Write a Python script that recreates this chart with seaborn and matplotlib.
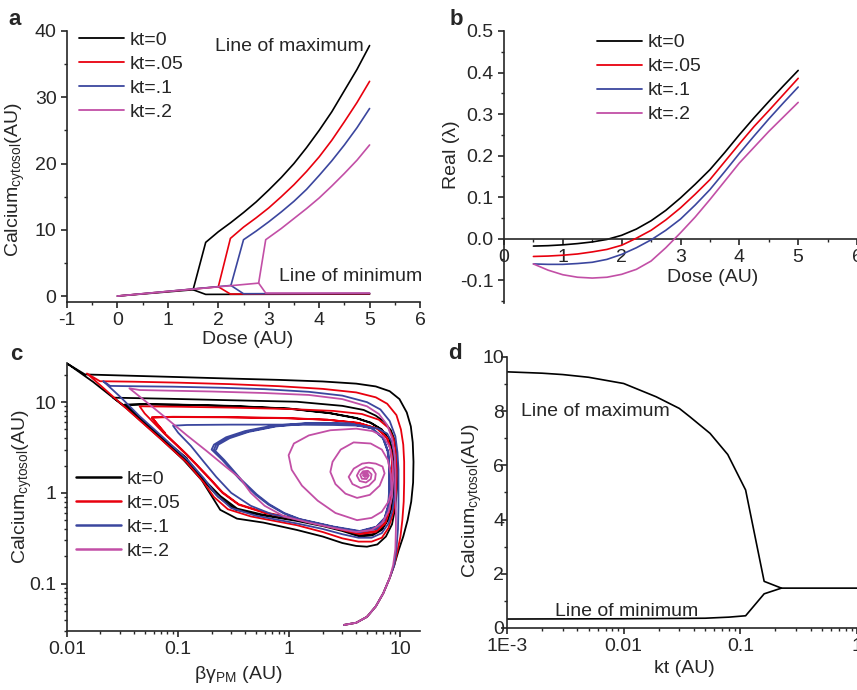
import matplotlib
matplotlib.use("Agg")
import seaborn as sns
from matplotlib import pyplot as plt
from matplotlib.lines import Line2D
from matplotlib.ticker import MultipleLocator, FixedLocator, FixedFormatter, LogLocator, NullFormatter

# ---------------------------------------------------------------- data
KT_LABELS = ["kt=0", "kt=.05", "kt=.1", "kt=.2"]
KT_COLORS = ["#000000", "#e8000e", "#3b469e", "#c24fa6"]

# panel a: bifurcation lines (dose, calcium), one max + one min branch per kt
a_max_dose = [
    [0, 1.5, 1.75, 2.0, 2.25, 2.5, 2.75, 3.0, 3.25, 3.5, 3.75, 4.0, 4.25, 4.5, 4.75, 5.0],
    [0, 2.0, 2.24, 2.5, 2.75, 3.0, 3.25, 3.5, 3.75, 4.0, 4.25, 4.5, 4.75, 5.0],
    [0, 2.25, 2.5, 2.75, 3.0, 3.25, 3.5, 3.75, 4.0, 4.25, 4.5, 4.75, 5.0],
    [0, 2.8, 2.94, 3.25, 3.5, 3.75, 4.0, 4.25, 4.5, 4.75, 5.0],
]
a_max_ca = [
    [0, 0.95, 8.1, 9.7, 11.1, 12.6, 14.2, 16.0, 17.9, 20.0, 22.4, 25.0, 27.8, 31.0, 34.2, 37.8],
    [0, 1.4, 8.7, 10.4, 11.8, 13.3, 15.0, 16.8, 18.8, 21.0, 23.5, 26.3, 29.2, 32.4],
    [0, 1.6, 8.5, 9.8, 11.2, 12.7, 14.3, 16.1, 18.2, 20.4, 22.8, 25.4, 28.3],
    [0, 1.95, 8.5, 10.2, 11.7, 13.2, 14.8, 16.6, 18.5, 20.5, 22.8],
]
a_min_dose = [[1.5, 1.75, 5.0], [2.0, 2.24, 5.0], [2.25, 2.5, 5.0], [2.8, 2.94, 5.0]]
a_min_ca = [[0.95, 0.25, 0.3], [1.4, 0.3, 0.35], [1.6, 0.35, 0.4], [1.95, 0.45, 0.45]]

# panel b: real part of eigenvalue vs dose
b_dose = [0.5, 0.75, 1.0, 1.25, 1.5, 1.75, 2.0, 2.25, 2.5, 2.75, 3.0,
          3.25, 3.5, 3.75, 4.0, 4.25, 4.5, 4.75, 5.0]
b_real = [
    [-0.018, -0.017, -0.015, -0.012, -0.008, -0.002, 0.008, 0.023, 0.043, 0.068,
     0.098, 0.131, 0.166, 0.207, 0.25, 0.291, 0.33, 0.368, 0.405],
    [-0.043, -0.042, -0.040, -0.037, -0.032, -0.026, -0.016, 0.001, 0.02, 0.045,
     0.074, 0.107, 0.142, 0.185, 0.228, 0.27, 0.308, 0.347, 0.386],
    [-0.061, -0.062, -0.062, -0.06, -0.057, -0.05, -0.038, -0.022, -0.003, 0.02,
     0.047, 0.081, 0.118, 0.161, 0.205, 0.247, 0.288, 0.327, 0.365],
    [-0.061, -0.076, -0.087, -0.093, -0.095, -0.093, -0.086, -0.074, -0.054, -0.022,
     0.014, 0.052, 0.094, 0.138, 0.182, 0.22, 0.258, 0.293, 0.328],
]

# panel c: phase-plane trajectories (beta*gamma_PM, calcium)
c_traj_kt0 = [
    (3.1, 0.035), (4.0, 0.037), (5.0, 0.043), (6.0, 0.056), (7.0, 0.078), (8.0, 0.115),
    (8.8, 0.16), (9.6, 0.23), (10.6, 0.33), (11.6, 0.5), (12.5, 0.8), (13.0, 1.3),
    (13.1, 2.2), (12.9, 3.6), (12.4, 5.4), (11.4, 7.7), (9.8, 10.8), (8.0, 13.2),
    (6.0, 14.9), (4.0, 16.0), (2.0, 16.9), (0.8, 17.6), (0.29, 18.2), (0.1, 18.9),
    (0.04, 19.5), (0.0145, 20.2), (0.0101, 26.5),
    (0.0172, 16.7), (0.0345, 8.5), (0.069, 4.0), (0.112, 2.3), (0.163, 1.38),
    (0.205, 0.88), (0.239, 0.65), (0.338, 0.52), (0.586, 0.47), (1.17, 0.39),
    (2.0, 0.33), (3.0, 0.28), (4.0, 0.26), (5.0, 0.255), (6.2, 0.27), (7.4, 0.33),
    (8.4, 0.45), (9.0, 0.7), (9.3, 1.1), (9.4, 2.0), (9.0, 3.65), (8.2, 4.9),
    (7.1, 6.1), (6.0, 7.1), (4.67, 8.2), (3.0, 9.1), (1.17, 10.1), (0.29, 10.5),
    (0.08, 10.9), (0.026, 11.2),
    (0.035, 8.6), (0.07, 4.05), (0.115, 2.35), (0.17, 1.35), (0.23, 0.9), (0.33, 0.65),
    (0.55, 0.57), (1.17, 0.49), (2.0, 0.43), (3.0, 0.38), (4.3, 0.33), (5.6, 0.34),
    (6.8, 0.39), (7.7, 0.5), (8.4, 0.72), (8.75, 1.1), (8.8, 1.7), (8.6, 2.6),
    (8.0, 3.8), (6.8, 5.0), (5.4, 5.95), (4.0, 6.7), (2.3, 7.6), (1.0, 8.5),
    (0.3, 9.1), (0.1, 9.4), (0.05, 9.5), (0.033, 9.4),
    (0.037, 8.3), (0.07, 4.1), (0.12, 2.35), (0.175, 1.36), (0.24, 0.92), (0.34, 0.67),
    (0.56, 0.58), (1.17, 0.5), (2.0, 0.44), (3.0, 0.39), (4.3, 0.34), (5.6, 0.35),
    (6.8, 0.4), (7.7, 0.51), (8.35, 0.73), (8.7, 1.1), (8.75, 1.7), (8.55, 2.6),
    (7.95, 3.8), (6.8, 4.95), (5.4, 5.9), (4.0, 6.65), (2.3, 7.55), (1.0, 8.45),
    (0.3, 9.05), (0.1, 9.35), (0.05, 9.45), (0.034, 9.3),
    (0.038, 8.2), (0.07, 4.15), (0.12, 2.4),
]
c_traj_kt05 = [
    (3.1, 0.035), (4.0, 0.037), (5.0, 0.043), (6.0, 0.056), (7.0, 0.078), (8.0, 0.115),
    (8.8, 0.16), (9.4, 0.23), (10.0, 0.33), (10.4, 0.5), (10.7, 0.8), (10.8, 1.3),
    (10.8, 2.2), (10.6, 3.4), (10.1, 5.0), (9.2, 7.2), (7.6, 9.6), (6.0, 11.3),
    (4.0, 12.8), (2.0, 14.0), (0.8, 15.0), (0.29, 15.8), (0.1, 16.4), (0.04, 16.8),
    (0.0198, 17.0), (0.0151, 20.7),
    (0.021, 14.5), (0.035, 8.3), (0.07, 3.9), (0.12, 2.15), (0.17, 1.3), (0.21, 0.9),
    (0.28, 0.66), (0.45, 0.55), (1.17, 0.44), (2.0, 0.37), (3.0, 0.315), (4.2, 0.29),
    (5.5, 0.29), (6.8, 0.32), (7.8, 0.41), (8.6, 0.6), (9.1, 0.95), (9.3, 1.6),
    (9.2, 2.6), (8.7, 3.9), (7.8, 5.2), (6.4, 6.4), (4.5, 7.4), (2.5, 8.0),
    (1.0, 8.4), (0.3, 8.7), (0.1, 8.9), (0.045, 9.0),
    (0.05, 7.5), (0.075, 4.5), (0.12, 2.6), (0.18, 1.55), (0.25, 1.0), (0.35, 0.74),
    (0.6, 0.6), (1.17, 0.51), (2.5, 0.41), (4.3, 0.35), (6.0, 0.37), (7.3, 0.46),
    (8.0, 0.66), (8.4, 1.05), (8.5, 1.8), (8.3, 2.8), (7.6, 4.0), (6.2, 5.1),
    (4.2, 5.9), (2.2, 6.4), (0.9, 6.7), (0.25, 6.85), (0.09, 6.9), (0.058, 6.8),
    (0.075, 4.6), (0.12, 2.65), (0.18, 1.58), (0.25, 1.02), (0.35, 0.75), (0.6, 0.61),
    (1.17, 0.52), (2.5, 0.42), (4.3, 0.36), (6.0, 0.38), (7.3, 0.47), (8.0, 0.67),
    (8.35, 1.05), (8.45, 1.8), (8.25, 2.8), (7.6, 4.0), (6.2, 5.1), (4.2, 5.9),
    (2.2, 6.4), (0.9, 6.65), (0.25, 6.8), (0.09, 6.85), (0.058, 6.75), (0.076, 4.6),
]
c_traj_kt1 = [
    (3.1, 0.035), (4.0, 0.037), (5.0, 0.043), (6.0, 0.056), (7.0, 0.078), (8.0, 0.115),
    (8.8, 0.16), (9.2, 0.24), (9.5, 0.4), (9.6, 0.7), (9.6, 1.1), (9.6, 1.8),
    (9.4, 2.8), (9.0, 4.2), (8.0, 6.2), (6.6, 8.3), (5.0, 10.0), (3.0, 11.8),
    (1.5, 13.0), (0.6, 13.9), (0.25, 14.4), (0.09, 14.8), (0.035, 15.0),
    (0.0244, 15.1), (0.0212, 17.0),
    (0.03, 11.5), (0.045, 7.0), (0.07, 4.3), (0.12, 2.35), (0.17, 1.45), (0.22, 0.95),
    (0.3, 0.68), (0.5, 0.56), (1.17, 0.46), (2.0, 0.4), (3.0, 0.35), (4.2, 0.32),
    (5.5, 0.32), (6.8, 0.36), (7.8, 0.46), (8.5, 0.65), (8.9, 1.0), (9.0, 1.6),
    (8.9, 2.5), (8.4, 3.6), (7.6, 4.5), (6.3, 5.1), (4.5, 5.5), (2.5, 5.6),
    (1.0, 5.65), (0.3, 5.65), (0.12, 5.6), (0.09, 5.5),
    (0.1, 4.6), (0.13, 3.3), (0.17, 2.2), (0.22, 1.5), (0.3, 1.0), (0.45, 0.72),
    (0.7, 0.58), (1.3, 0.5), (2.5, 0.42), (4.3, 0.37), (6.1, 0.4), (7.2, 0.5),
    (7.8, 0.7), (8.0, 1.1), (8.0, 1.8), (7.8, 2.8), (7.0, 4.0), (5.5, 5.2),
    (3.5, 5.8), (1.5, 5.9), (0.7, 5.5), (0.4, 4.8), (0.27, 4.1), (0.21, 3.4), (0.2, 3.0),
    (0.25, 2.3), (0.36, 1.4), (0.5, 0.95), (0.65, 0.74), (0.9, 0.59), (1.24, 0.51),
    (2.5, 0.42), (4.3, 0.375), (6.1, 0.42), (7.2, 0.52), (7.8, 0.72), (8.0, 1.16),
    (8.0, 1.8), (7.7, 2.9), (7.0, 4.05), (5.5, 5.2), (3.5, 5.8), (1.5, 5.85),
    (0.75, 5.45), (0.42, 4.75), (0.28, 4.05), (0.22, 3.4), (0.21, 3.0),
    (0.26, 2.3), (0.37, 1.4), (0.51, 0.96), (0.66, 0.75), (0.9, 0.6), (1.24, 0.515),
    (2.5, 0.425), (4.3, 0.38), (6.1, 0.425), (7.2, 0.53), (7.75, 0.73), (7.95, 1.16),
    (7.95, 1.8), (7.65, 2.9), (6.95, 4.0), (5.5, 5.15), (3.5, 5.75), (1.5, 5.8),
    (0.76, 5.4), (0.43, 4.7), (0.29, 4.0), (0.23, 3.4), (0.22, 3.0),
]
c_traj_kt2 = [
    (3.1, 0.035), (4.0, 0.037), (5.0, 0.043), (6.0, 0.056), (7.0, 0.078), (8.0, 0.115),
    (8.6, 0.16), (9.0, 0.24), (9.1, 0.4), (9.1, 0.7), (9.0, 1.1), (9.0, 1.8),
    (8.8, 2.8), (8.4, 4.0), (7.6, 5.6), (6.4, 7.4), (5.0, 9.0), (3.0, 10.8),
    (1.5, 12.0), (0.6, 12.6), (0.2, 13.1), (0.08, 13.4), (0.045, 13.6), (0.0364, 14.2),
    (0.05, 10.4), (0.08, 6.5), (0.12, 4.3), (0.18, 2.9), (0.26, 2.0), (0.362, 1.44),
    (0.45, 1.0), (0.6, 0.72), (0.9, 0.55), (1.5, 0.47), (2.5, 0.41), (4.0, 0.37),
    (5.5, 0.39), (6.8, 0.46), (7.8, 0.62), (8.4, 0.9), (8.6, 1.4), (8.5, 2.2),
    (8.0, 3.2), (7.0, 4.2), (5.6, 4.8), (4.0, 5.1), (2.34, 4.9), (1.5, 4.3),
    (1.1, 3.5), (0.986, 2.6), (1.05, 1.8), (1.3, 1.2), (1.8, 0.82), (2.6, 0.6),
    (4.07, 0.5), (5.5, 0.53), (6.8, 0.62), (7.8, 0.8), (8.3, 1.07),
    (8.2, 1.6), (7.7, 2.3), (6.8, 3.0), (5.4, 3.5), (3.79, 3.6), (2.9, 3.0),
    (2.45, 2.2), (2.34, 1.7), (2.6, 1.25), (3.2, 0.98), (4.07, 0.88), (5.3, 0.95),
    (6.5, 1.2), (7.2, 1.64), (6.9, 1.95), (6.0, 2.1), (5.2, 2.15), (4.52, 2.1),
    (3.8, 1.85), (3.42, 1.5), (3.7, 1.25), (4.4, 1.13), (5.2, 1.2), (5.9, 1.4),
    (6.0, 1.62), (5.6, 1.85), (4.9, 1.92), (4.3, 1.78), (4.05, 1.55), (4.3, 1.35),
    (4.9, 1.3), (5.4, 1.42), (5.5, 1.6), (5.1, 1.75), (4.6, 1.73), (4.35, 1.58),
    (4.5, 1.43), (4.95, 1.42), (5.2, 1.55), (5.0, 1.68), (4.65, 1.65), (4.6, 1.55),
    (4.8, 1.49), (5.0, 1.55), (4.88, 1.62), (4.75, 1.58), (4.84, 1.54),
]
c_trajs = [c_traj_kt0, c_traj_kt05, c_traj_kt1, c_traj_kt2]

# panel d: max / min calcium vs kt
d_kt_max = [0.001, 0.002, 0.003, 0.005, 0.01, 0.019, 0.03, 0.037, 0.055, 0.078,
            0.111, 0.16, 0.225, 0.3, 0.5, 1.0]
d_ca_max = [9.45, 9.4, 9.35, 9.25, 9.02, 8.53, 8.1, 7.79, 7.18, 6.4,
            5.09, 1.72, 1.47, 1.47, 1.47, 1.47]
d_kt_min = [0.001, 0.01, 0.05, 0.08, 0.111, 0.16, 0.225]
d_ca_min = [0.33, 0.34, 0.36, 0.4, 0.45, 1.26, 1.47]

# ---------------------------------------------------------------- style
sns.set_theme(style="ticks")
plt.rcParams["font.family"] = ["Liberation Sans", "DejaVu Sans"]
plt.rcParams["mathtext.fontset"] = "custom"
plt.rcParams["mathtext.rm"] = "Liberation Sans"
plt.rcParams["mathtext.it"] = "Liberation Sans:italic"
plt.rcParams["mathtext.bf"] = "Liberation Sans:bold"
plt.rcParams["axes.unicode_minus"] = False
plt.rcParams["axes.linewidth"] = 1.2
plt.rcParams["xtick.major.width"] = 1.2
plt.rcParams["ytick.major.width"] = 1.2
plt.rcParams["xtick.minor.width"] = 1.0
plt.rcParams["ytick.minor.width"] = 1.0
plt.rcParams["xtick.major.size"] = 4
plt.rcParams["ytick.major.size"] = 4
plt.rcParams["xtick.minor.size"] = 2.5
plt.rcParams["ytick.minor.size"] = 2.5
plt.rcParams["xtick.labelsize"] = 14
plt.rcParams["ytick.labelsize"] = 14
plt.rcParams["axes.labelsize"] = 14

FS = 14
CA_LABEL = r"Calcium$_{\mathrm{cytosol}}$(AU)"


def draw(ax, x, y, color, lw=1.2, zorder=2):
    sns.lineplot(x=x, y=y, sort=False, estimator=None, color=color, lw=lw,
                 ax=ax, zorder=zorder)


def kt_legend(ax, anchor, lw=1.3):
    handles = [Line2D([], [], color=c, lw=lw) for c in KT_COLORS]
    ax.legend(handles, KT_LABELS, loc="upper left", bbox_to_anchor=anchor,
              frameon=False, fontsize=FS, handlelength=2.3, handletextpad=0.3,
              labelspacing=0.33, borderpad=0, borderaxespad=0)


def place_labels(ax, xl, yl):
    ax.xaxis.set_label_coords(*xl)
    ax.yaxis.set_label_coords(*yl)
    ax.xaxis.label.set_va("center")
    ax.yaxis.label.set_va("center")


fig = plt.figure(figsize=(8.57, 6.9), dpi=100)
ax_a = fig.add_axes([0.0782, 0.5623, 0.4119, 0.3928])
ax_b = fig.add_axes([0.5881, 0.5609, 0.4119, 0.3942])
ax_c = fig.add_axes([0.0782, 0.0855, 0.4119, 0.3884])
ax_d = fig.add_axes([0.5916, 0.0899, 0.4084, 0.3928])

for ax in (ax_a, ax_b, ax_c, ax_d):
    sns.despine(ax=ax)

# ---------------------------------------------------------------- panel a
for i, color in enumerate(KT_COLORS):
    draw(ax_a, a_max_dose[i], a_max_ca[i], color, zorder=2 + i)
    draw(ax_a, a_min_dose[i], a_min_ca[i], color, zorder=2 + i)
ax_a.set_xlim(-1, 6)
ax_a.set_ylim(-0.9, 40)
ax_a.xaxis.set_major_locator(MultipleLocator(1))
ax_a.xaxis.set_minor_locator(MultipleLocator(0.5))
ax_a.yaxis.set_major_locator(MultipleLocator(10))
ax_a.yaxis.set_minor_locator(MultipleLocator(5))
ax_a.tick_params(which="both", direction="out")
ax_a.set_xlabel("Dose (AU)")
ax_a.set_ylabel(CA_LABEL)
place_labels(ax_a, (0.513, -0.14), (-0.147, 0.45))
ax_a.text(1.93, 37.6, "Line of maximum", fontsize=FS, va="center", ha="left")
ax_a.text(3.21, 2.97, "Line of minimum", fontsize=FS, va="center", ha="left")
kt_legend(ax_a, (0.034, 1.0))

# ---------------------------------------------------------------- panel b
for i, color in enumerate(KT_COLORS):
    draw(ax_b, b_dose, b_real[i], color, zorder=2 + i)
ax_b.spines["bottom"].set_position(("data", 0))
ax_b.set_xlim(0, 6)
ax_b.set_ylim(-0.155, 0.5)
ax_b.xaxis.set_major_locator(MultipleLocator(1))
ax_b.xaxis.set_minor_locator(MultipleLocator(0.5))
ax_b.yaxis.set_major_locator(FixedLocator([-0.1, 0.0, 0.1, 0.2, 0.3, 0.4, 0.5]))
ax_b.yaxis.set_major_formatter(FixedFormatter(["-0.1", "0.0", "0.1", "0.2", "0.3", "0.4", "0.5"]))
ax_b.yaxis.set_minor_locator(MultipleLocator(0.05))
ax_b.tick_params(which="both", direction="out")
ax_b.set_xlabel("Dose (AU)")
ax_b.set_ylabel("Real (λ)")
place_labels(ax_b, (0.59, 0.092), (-0.15, 0.544))
kt_legend(ax_b, (0.263, 0.99))

# ---------------------------------------------------------------- panel c
ax_c.set_xscale("log")
ax_c.set_yscale("log")
for i, color in enumerate(KT_COLORS):
    xs = [p[0] for p in c_trajs[i]]
    ys = [p[1] for p in c_trajs[i]]
    draw(ax_c, xs, ys, color, lw=1.3, zorder=2 + i)
ax_c.set_xlim(0.01, 15)
ax_c.set_ylim(0.03, 27)
ax_c.xaxis.set_major_locator(FixedLocator([0.01, 0.1, 1, 10]))
ax_c.xaxis.set_major_formatter(FixedFormatter(["0.01", "0.1", "1", "10"]))
ax_c.yaxis.set_major_locator(FixedLocator([0.1, 1, 10]))
ax_c.yaxis.set_major_formatter(FixedFormatter(["0.1", "1", "10"]))
for axis in (ax_c.xaxis, ax_c.yaxis):
    axis.set_minor_locator(LogLocator(base=10, subs=range(2, 10), numticks=20))
    axis.set_minor_formatter(NullFormatter())
ax_c.tick_params(which="both", direction="out")
ax_c.set_xlabel(r"βγ$_{\mathrm{PM}}$ (AU)")
ax_c.set_ylabel(CA_LABEL)
place_labels(ax_c, (0.484, -0.164), (-0.127, 0.537))
kt_legend(ax_c, (0.025, 0.6), lw=1.8)

# ---------------------------------------------------------------- panel d
ax_d.set_xscale("log")
draw(ax_d, d_kt_max, d_ca_max, "#000000")
draw(ax_d, d_kt_min, d_ca_min, "#000000")
ax_d.set_xlim(0.001, 1)
ax_d.set_ylim(0, 10)
ax_d.xaxis.set_major_locator(FixedLocator([0.001, 0.01, 0.1, 1]))
ax_d.xaxis.set_major_formatter(FixedFormatter(["1E-3", "0.01", "0.1", "1"]))
ax_d.xaxis.set_minor_locator(LogLocator(base=10, subs=range(2, 10), numticks=20))
ax_d.xaxis.set_minor_formatter(NullFormatter())
ax_d.yaxis.set_major_locator(MultipleLocator(2))
ax_d.yaxis.set_minor_locator(MultipleLocator(1))
ax_d.tick_params(which="both", direction="out")
ax_d.tick_params(axis="y", which="major", pad=-2)
ax_d.set_xlabel("kt (AU)")
ax_d.set_ylabel(CA_LABEL)
place_labels(ax_d, (0.506, -0.148), (-0.10, 0.47))
ax_d.text(0.00133, 8.0, "Line of maximum", fontsize=FS, va="center", ha="left")
ax_d.text(0.00256, 0.61, "Line of minimum", fontsize=FS, va="center", ha="left")

# ---------------------------------------------------------------- panel letters
for letter, (px, py) in zip("abcd", [(8, 25), (450, 25), (10, 360), (448, 359)]):
    fig.text(px / 857, 1 - py / 690, letter, fontsize=16, fontweight="bold",
             va="baseline", ha="left")

fig.savefig("out.png", dpi=100)
